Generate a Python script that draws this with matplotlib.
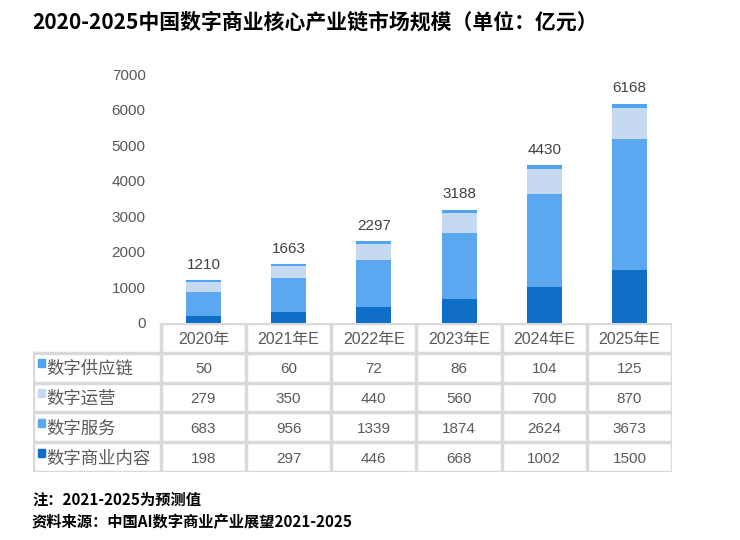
import matplotlib
matplotlib.use("Agg")
import matplotlib.pyplot as plt
from matplotlib.patches import Rectangle

plt.rcParams['font.family'] = ['Noto Sans CJK SC', 'DejaVu Sans']
num_font = ['Liberation Sans', 'Noto Sans CJK SC']

years = ['2020年', '2021年E', '2022年E', '2023年E', '2024年E', '2025年E']
series_names = ['数字供应链', '数字运营', '数字服务', '数字商业内容']
supply_chain = [50, 60, 72, 86, 104, 125]
operation = [279, 350, 440, 560, 700, 870]
service = [683, 956, 1339, 1874, 2624, 3673]
content = [198, 297, 446, 668, 1002, 1500]
totals = [1210, 1663, 2297, 3188, 4430, 6168]
colors = ['#4FA3F0', '#C5D9F1', '#5BA7F0', '#0F6FC6']

W, H = 740, 540
fig = plt.figure(figsize=(7.4, 5.4), dpi=100)
fig.patch.set_facecolor('white')

gray = '#595959'
grid_c = '#D9D9D9'

# bar chart axes
ax = fig.add_axes([161 / W, (H - 323) / H, 511 / W, (323 - 74) / H])
x = list(range(len(years)))
bottom = [0] * len(years)
stack = [content, service, operation, supply_chain]
stack_colors = [colors[3], colors[2], colors[1], colors[0]]
for vals, c in zip(stack, stack_colors):
    ax.bar(x, vals, width=0.41, bottom=bottom, color=c, zorder=2)
    bottom = [b + v for b, v in zip(bottom, vals)]
for xi, t in zip(x, totals):
    ax.text(xi, t + 230, str(t), ha='center', va='bottom', fontsize=11,
            color='#404040', family=num_font)
ax.set_xlim(-0.5, 5.5)
ax.set_ylim(0, 7000)
ax.set_yticks(range(0, 7001, 1000))
ax.tick_params(axis='y', length=0, pad=11, labelsize=11, labelcolor=gray)
for lab in ax.get_yticklabels():
    lab.set_family(num_font)
ax.set_xticks([])
for s in ax.spines.values():
    s.set_visible(False)
ax.patch.set_alpha(0)

# table axes
tax = fig.add_axes([33 / W, (H - 472) / H, (672 - 33) / W, (472 - 323) / H])
tax.set_xlim(-2.0, 5.5)
tax.set_ylim(5, 0)
tax.axis('off')
lw = 2.5
tax.plot([-0.5, 5.5], [0, 0], color=grid_c, lw=lw, solid_capstyle='butt')
for r in range(1, 6):
    tax.plot([-2.0, 5.5], [r, r], color=grid_c, lw=lw, solid_capstyle='butt')
tax.plot([-2.0, -2.0], [1, 5], color=grid_c, lw=lw)
for c in range(7):
    tax.plot([c - 0.5, c - 0.5], [0, 5], color=grid_c, lw=lw)

for i, yr in enumerate(years):
    tax.text(i, 0.55, yr, ha='center', va='center', fontsize=11.5, color=gray, family=num_font)

rows = [supply_chain, operation, service, content]
for r, (name, vals, c) in enumerate(zip(series_names, rows, colors)):
    y = r + 1
    tax.add_patch(Rectangle((-1.94, y + 0.22), 0.08, 0.27, color=c, clip_on=False))
    tax.text(-1.84, y + 0.55, name, ha='left', va='center', fontsize=12.5, color=gray)
    for i, v in enumerate(vals):
        tax.text(i, y + 0.55, str(v), ha='center', va='center', fontsize=11,
                 color=gray, family=num_font)

fig.text(32 / W, 1 - 22 / H, '2020-2025中国数字商业核心产业链市场规模（单位：亿元）',
         ha='left', va='center', fontsize=15, fontweight='bold', color='black')
fig.text(32 / W, 1 - 500 / H, '注：2021-2025为预测值', ha='left', va='center',
         fontsize=11, fontweight='bold', color='black')
fig.text(32 / W, 1 - 522 / H, '资料来源：中国AI数字商业产业展望2021-2025', ha='left', va='center',
         fontsize=11, fontweight='bold', color='black')

fig.savefig('out.png', dpi=100)
